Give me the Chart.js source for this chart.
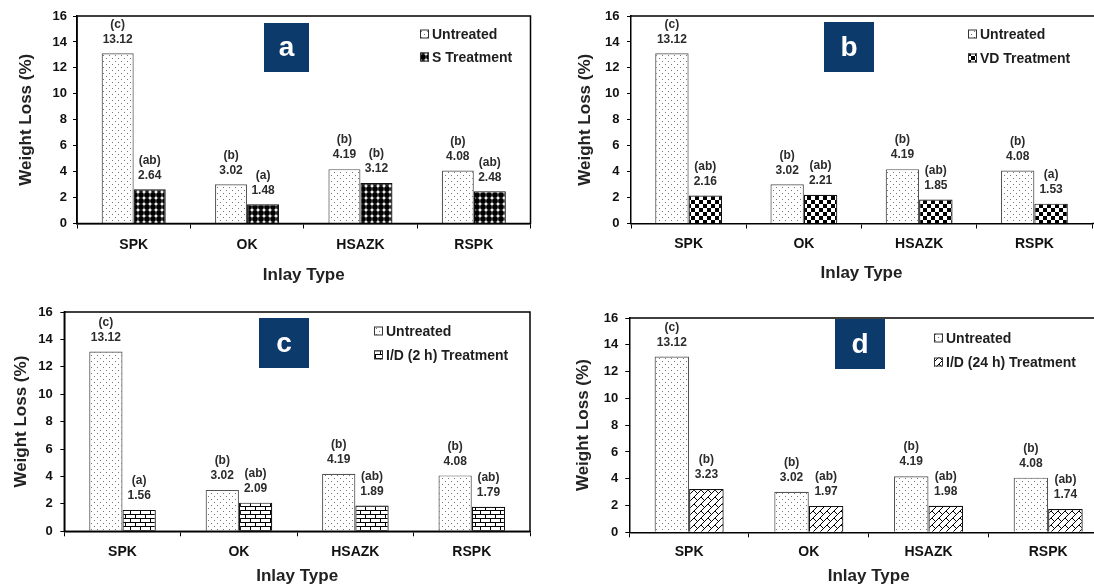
<!DOCTYPE html>
<html>
<head>
<meta charset="utf-8">
<script src="https://cdn.jsdelivr.net/npm/chart.js@4.4.0/dist/chart.umd.min.js"></script>
<style>
  html, body { margin: 0; padding: 0; background: #fff; }
  body { width: 1094px; height: 588px; position: relative; overflow: hidden; }
  canvas { position: absolute; }
</style>
</head>
<body>
<canvas id="pa"></canvas>
<canvas id="pb"></canvas>
<canvas id="pc"></canvas>
<canvas id="pd"></canvas>
<script>
// Datos
const categorias = ["SPK", "OK", "HSAZK", "RSPK"];
const ticksY = [0, 2, 4, 6, 8, 10, 12, 14, 16];

const sinTratar = [13.12, 3.02, 4.19, 4.08];
const letrasSinTratar = ["(c)", "(b)", "(b)", "(b)"];

const tratS = [2.64, 1.48, 3.12, 2.48];
const letrasS = ["(ab)", "(a)", "(b)", "(ab)"];

const tratVD = [2.16, 2.21, 1.85, 1.53];
const letrasVD = ["(ab)", "(ab)", "(ab)", "(a)"];

const tratID2 = [1.56, 2.09, 1.89, 1.79];
const letrasID2 = ["(a)", "(ab)", "(ab)", "(ab)"];

const tratID24 = [3.23, 1.97, 1.98, 1.74];
const letrasID24 = ["(b)", "(ab)", "(ab)", "(ab)"];

const FONT = "'Liberation Sans', Arial, sans-serif";

// Patrones de relleno
function tile(w, h, draw) {
  const c = document.createElement("canvas");
  c.width = w; c.height = h;
  const g = c.getContext("2d");
  g.fillStyle = "#fff";
  g.fillRect(0, 0, w, h);
  draw(g);
  return c;
}
const patrones = {
  puntos: tile(6, 6, g => {
    g.fillStyle = "#777";
    g.fillRect(1, 1, 1, 1);
    g.fillRect(4, 4, 1, 1);
  }),
  discos: tile(6, 6, g => {
    g.fillStyle = "#000";
    g.beginPath();
    g.arc(3, 3, 2.9, 0, Math.PI * 2);
    g.fill();
  }),
  damero: tile(8, 8, g => {
    g.fillStyle = "#000";
    g.fillRect(0, 0, 4, 4);
    g.fillRect(4, 4, 4, 4);
  }),
  ladrillo: tile(10, 8, g => {
    g.fillStyle = "#000";
    g.fillRect(0, 0, 10, 1);
    g.fillRect(0, 4, 10, 1);
    g.fillRect(0, 0, 1, 4);
    g.fillRect(5, 4, 1, 4);
  }),
  diagonal: tile(7, 7, g => {
    g.strokeStyle = "#000";
    g.lineWidth = 1;
    g.beginPath();
    g.moveTo(-1, 8); g.lineTo(8, -1);
    g.moveTo(0, 0); g.lineTo(3.5, 3.5);
    g.stroke();
  })
};

// Etiquetas, marco, leyenda y recuadro con letra
const decoraciones = {
  id: "decoraciones",
  afterDatasetsDraw(chart, args, o) {
    const ctx = chart.ctx;
    const a = chart.chartArea;
    ctx.save();
    ctx.strokeStyle = "#000";
    ctx.lineWidth = 1.5;
    if (o.abierto) {
      ctx.beginPath();
      ctx.moveTo(a.left, a.top);
      ctx.lineTo(chart.width, a.top);
      ctx.moveTo(a.right, a.bottom);
      ctx.lineTo(chart.width, a.bottom);
      ctx.stroke();
    } else {
      ctx.strokeRect(a.left, a.top, a.right - a.left, a.bottom - a.top);
    }

    ctx.font = "bold 12px " + FONT;
    ctx.fillStyle = "#2b2b2b";
    ctx.textAlign = "center";
    ctx.textBaseline = "middle";
    chart.data.datasets.forEach((ds, i) => {
      chart.getDatasetMeta(i).data.forEach((bar, j) => {
        ctx.fillText(ds.valores[j].toFixed(2), bar.x, bar.y - 14);
        ctx.fillText(ds.letras[j], bar.x, bar.y - 29);
      });
    });

    // leyenda
    ctx.textAlign = "left";
    ctx.font = "bold 14px " + FONT;
    chart.data.datasets.forEach((ds, i) => {
      const y = o.leyenda.y[i];
      ctx.fillStyle = ds.backgroundColor;
      ctx.fillRect(o.leyenda.x, y - 4.5, 9, 9);
      ctx.strokeStyle = "#333";
      ctx.lineWidth = 1;
      ctx.strokeRect(o.leyenda.x + 0.5, y - 4, 8, 8);
      ctx.fillStyle = "#1e1e1e";
      ctx.fillText(ds.label, o.leyenda.x + 12, y + 1);
    });

    // recuadro
    const r = o.recuadro;
    ctx.fillStyle = "#0b3a6b";
    ctx.fillRect(r.x, r.y, r.w, r.h);
    ctx.fillStyle = "#fff";
    ctx.textAlign = "center";
    ctx.font = "bold 28px " + FONT;
    ctx.fillText(r.letra, r.x + r.w / 2, r.y + r.h / 2 + 1);
    ctx.restore();
  }
};

function crearPanel(id, p, tratLabel, tratDatos, tratLetras, patron) {
  const canvas = document.getElementById(id);
  canvas.width = p.w; canvas.height = 294;
  canvas.style.left = p.left + "px";
  canvas.style.top = p.top + "px";
  canvas.style.width = p.w + "px";
  canvas.style.height = "294px";
  const ctx = canvas.getContext("2d");
  return new Chart(ctx, {
    type: "bar",
    data: {
      labels: categorias,
      datasets: [
        {
          label: "Untreated",
          data: sinTratar,
          valores: sinTratar,
          letras: letrasSinTratar,
          backgroundColor: ctx.createPattern(patrones.puntos, "repeat"),
          borderColor: "#555",
          borderWidth: 1.2,
          categoryPercentage: p.cp,
          barPercentage: 1
        },
        {
          label: tratLabel,
          data: tratDatos,
          valores: tratDatos,
          letras: tratLetras,
          backgroundColor: ctx.createPattern(patrones[patron], "repeat"),
          borderColor: "#111",
          borderWidth: 1.2,
          categoryPercentage: p.cp,
          barPercentage: 1
        }
      ]
    },
    plugins: [decoraciones],
    options: {
      responsive: false,
      animation: false,
      devicePixelRatio: 1,
      layout: { padding: { left: 0, top: p.areaTop, right: p.w - p.areaRight, bottom: 0 } },
      plugins: {
        legend: { display: false },
        tooltip: { enabled: false },
        decoraciones: { leyenda: p.leyenda, recuadro: p.recuadro, abierto: p.abierto }
      },
      scales: {
        x: {
          grid: { drawOnChartArea: false, drawTicks: true, tickLength: 5, color: "#000", offset: true },
          border: { color: "#000", width: 1.5 },
          ticks: { color: "#111", padding: p.xTickPad, font: { family: FONT, size: 14, weight: "bold" } },
          title: {
            display: true,
            text: "Inlay Type",
            color: "#222",
            font: { family: FONT, size: 17, weight: "bold" },
            padding: { top: 0, bottom: p.xTitlePad }
          },
          afterFit: s => { s.height = 294 - p.areaBottom; }
        },
        y: {
          min: 0,
          max: 16,
          afterBuildTicks: s => { s.ticks = ticksY.map(v => ({ value: v })); },
          grid: { drawOnChartArea: false, drawTicks: true, tickLength: 4, color: "#000" },
          border: { color: "#000", width: 1.5 },
          ticks: { color: "#111", padding: p.yTickPad, font: { family: FONT, size: 13, weight: "bold" } },
          title: {
            display: true,
            text: "Weight Loss (%)",
            color: "#222",
            font: { family: FONT, size: 17, weight: "bold" },
            padding: { top: p.yTitlePad, bottom: 0 }
          },
          afterFit: s => { s.width = p.areaLeft; }
        }
      }
    }
  });
}

crearPanel("pa", {
  left: 0, top: 0, w: 547, cp: 0.565,
  areaLeft: 77, areaRight: 530.5, areaTop: 16, areaBottom: 223.5,
  xTickPad: 8.5, xTitlePad: 8.8, yTickPad: 6, yTitlePad: 16,
  leyenda: { x: 420, y: [34, 57] },
  recuadro: { x: 264, y: 23, w: 45, h: 49, letra: "a" }
}, "S Treatment", tratS, letrasS, "discos");

crearPanel("pb", {
  left: 547, top: 0, w: 560, cp: 0.58, abierto: true,
  areaLeft: 84, areaRight: 545, areaTop: 16, areaBottom: 223.5,
  xTickPad: 7.6, xTitlePad: 10.8, yTickPad: 7.5, yTitlePad: 28,
  leyenda: { x: 421, y: [34, 58] },
  recuadro: { x: 277, y: 22, w: 50, h: 50, letra: "b" }
}, "VD Treatment", tratVD, letrasVD, "damero");

crearPanel("pc", {
  left: 0, top: 294, w: 547, cp: 0.572,
  areaLeft: 64.3, areaRight: 530, areaTop: 18, areaBottom: 237.3,
  xTickPad: 7.3, xTitlePad: 1, yTickPad: 7.5, yTitlePad: 11,
  leyenda: { x: 374, y: [37, 61] },
  recuadro: { x: 259, y: 24, w: 50, h: 50, letra: "c" }
}, "I/D (2 h) Treatment", tratID2, letrasID2, "ladrillo");

crearPanel("pd", {
  left: 547, top: 294, w: 575, cp: 0.577, abierto: true,
  areaLeft: 82.3, areaRight: 561, areaTop: 24, areaBottom: 238.3,
  xTickPad: 6, xTitlePad: 1, yTickPad: 7, yTitlePad: 26.5,
  leyenda: { x: 387, y: [44, 68] },
  recuadro: { x: 288, y: 25, w: 50, h: 50, letra: "d" }
}, "I/D (24 h) Treatment", tratID24, letrasID24, "diagonal");
</script>
</body>
</html>
